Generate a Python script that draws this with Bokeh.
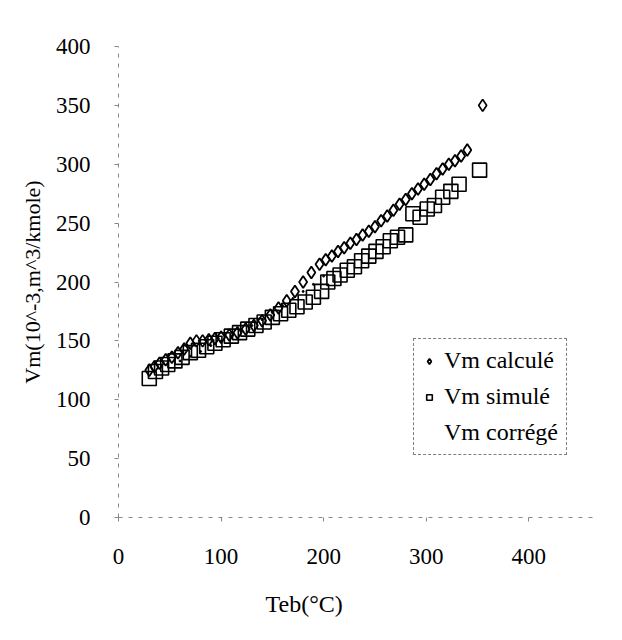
from bokeh.plotting import figure
from bokeh.models import FixedTicker, Legend, LegendItem, Range1d, Title
from bokeh.embed import file_html
from bokeh.resources import INLINE

# Teb (°C) and Vm (10^-3 m^3/kmole)
calc_x = [30, 35, 40, 46, 52, 58, 64, 70, 76, 82, 88, 94, 100, 108, 116, 124, 132, 140, 148, 156,
          164, 172, 180, 188, 196, 202, 208, 214, 220, 226, 232, 238, 244, 250, 256, 262, 268, 274,
          280, 286, 292, 298, 304, 310, 316, 322, 328, 334, 340, 355]
calc_y = [125, 128, 131, 134, 136, 140, 143, 148, 150, 150, 151, 152, 153, 155, 157, 160, 163, 167, 172, 178,
          184, 192, 200, 208, 215, 219, 222, 226, 229, 233, 236, 240, 243, 247, 252, 256, 261, 266,
          270, 275, 279, 283, 287, 292, 296, 300, 303, 307, 312, 350]

sim_x = [30, 36, 42, 48, 55, 62, 70, 78, 86, 94, 102, 110, 118, 126, 134, 142, 150, 158, 166, 174,
         182, 190, 198, 204, 210, 216, 223, 230, 237, 244, 251, 258, 265, 272, 280, 287, 294, 301,
         308, 316, 324, 332, 352]
sim_y = [118, 124, 127, 130, 133, 136, 140, 142, 145, 148, 151, 154, 157, 160, 163, 166, 170, 173, 176, 179,
         183, 187, 192, 200, 203, 206, 210, 213, 218, 222, 226, 230, 235, 238, 240, 258, 255, 262,
         265, 272, 277, 283, 295]

corr_x = [60, 70, 80, 90, 100, 110, 120, 130, 140, 150, 160, 170, 180, 190, 200]
corr_y = [133, 137, 141, 146, 150, 154, 158, 163, 168, 174, 180, 186, 192, 198, 205]

x_ticks = [0, 100, 200, 300, 400]
y_ticks = [0, 50, 100, 150, 200, 250, 300, 350, 400]

FONT = "Liberation Serif"

p = figure(width=622, height=640, output_backend="svg", toolbar_location=None,
           x_range=Range1d(0, 465), y_range=Range1d(0, 400),
           min_border_left=118, min_border_right=27, min_border_top=46, min_border_bottom=123)
p.outline_line_color = None
p.xgrid.visible = False
p.ygrid.visible = False
p.background_fill_color = "white"
p.border_fill_color = "white"

for ax in (p.xaxis[0], p.yaxis[0]):
    ax.axis_line_color = "#888888"
    ax.axis_line_dash = "4 6"
    ax.axis_line_width = 1
    ax.major_tick_line_color = "#888888"
    ax.major_tick_in = 0
    ax.major_tick_out = 4
    ax.minor_tick_line_color = None
    ax.major_label_text_font = FONT
    ax.major_label_text_font_size = "23px"
    ax.major_label_text_color = "black"
    ax.axis_label_text_font = FONT
    ax.axis_label_text_font_size = "22px"
    ax.axis_label_text_font_style = "normal"
    ax.axis_label_text_color = "black"

p.xaxis.ticker = FixedTicker(ticks=x_ticks)
p.yaxis.ticker = FixedTicker(ticks=y_ticks)
p.xaxis.major_label_standoff = 27
p.yaxis.major_label_standoff = 24
p.yaxis.axis_label = "Vm(10^-3,m^3/kmole)"
p.yaxis.axis_label_standoff = 8

xtitle = Title(text="Teb(°C)", align="left", offset=147, text_font=FONT,
               text_font_size="24px", text_font_style="normal", text_color="black",
               standoff=44, vertical_align="bottom")
p.add_layout(xtitle, "below")

r_corr = p.scatter(corr_x, corr_y, marker="circle", size=2, fill_color="black",
                   line_color="black")
r_sim = p.scatter(sim_x, sim_y, marker="square", size=14, fill_color=None,
                  line_color="black", line_width=1.6)
r_calc = p.scatter(calc_x, calc_y, marker="diamond", size=12, fill_color=None,
                   line_color="black", line_width=1.8)
r_corr_key = p.scatter(x=[], y=[], marker="circle", size=0, fill_alpha=0, line_alpha=0)

legend = Legend(items=[
    LegendItem(label="Vm calculé", renderers=[r_calc]),
    LegendItem(label="Vm simulé", renderers=[r_sim]),
    LegendItem(label="Vm corrégé", renderers=[r_corr_key]),
], location=(295, 62))
legend.label_text_font = FONT
legend.label_text_font_size = "24px"
legend.label_text_color = "black"
legend.border_line_color = "black"
legend.border_line_dash = "6 3"
legend.border_line_width = 1
legend.background_fill_alpha = 1
legend.glyph_width = 14
legend.label_standoff = 8
legend.padding = 8
legend.spacing = 9
legend.margin = 0
p.add_layout(legend, "center")

open("out.html", "w").write(file_html(p, INLINE))
